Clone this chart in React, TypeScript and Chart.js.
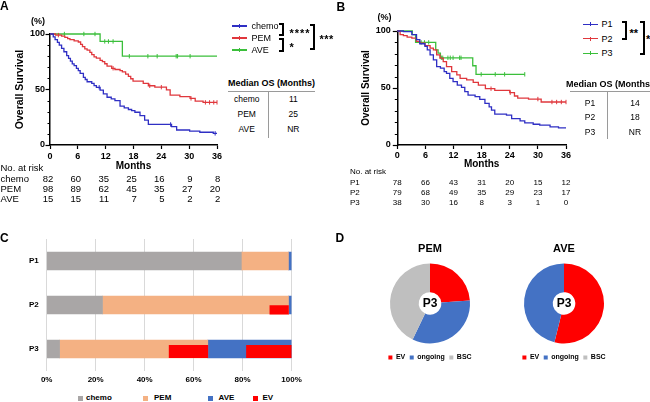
import React, { useEffect, useRef } from 'react';
import { Chart, registerables } from 'chart.js';

Chart.register(...registerables);

const FONT = '"Liberation Sans", Arial, Helvetica, sans-serif';
const INK = '#000';

// ---------- A: overall survival by first-line regimen ----------
const riskMonths = [0, 6, 12, 18, 24, 30, 36];

const chemoSteps = [
  [0, 100], [0.7, 97.5], [1.1, 95], [1.6, 92.5], [2.0, 90], [2.5, 87], [3.0, 84], [3.6, 80.5],
  [4.0, 78], [4.4, 75.5], [4.8, 73], [5.2, 71.5], [5.7, 69], [6.1, 67], [6.5, 64.5], [7.2, 61],
  [7.6, 59], [8.0, 57], [9.0, 55.5], [9.5, 53.5], [10.0, 52], [10.8, 49.5], [11.5, 46], [12.3, 43],
  [13.2, 41.5], [14.0, 40], [15.1, 35], [16.0, 33.5], [16.9, 32], [17.6, 31], [18.3, 29.5],
  [19.4, 26.5], [20.4, 22.5], [21.2, 18.5], [26.2, 16.5], [27.3, 13.5], [30.1, 12.5], [32.3, 11.5],
  [35.2, 10.5], [36, 10.5],
];
const chemoCensored = [10.6, 26.0, 35.6];

const pemSteps = [
  [0, 100], [1.2, 99], [2.5, 98], [3.2, 96.9], [3.8, 95.9], [4.3, 94.9], [5.2, 93.8], [6.1, 92.8],
  [6.6, 90.7], [7.0, 88.7], [7.5, 86.6], [8.0, 85.5], [8.6, 83.5], [9.0, 81.4], [9.5, 79.4],
  [10.0, 78.3], [10.8, 76.3], [11.3, 75.2], [11.8, 73.2], [12.3, 71.1], [13.3, 69.1], [14.0, 68.0],
  [15.1, 67.0], [15.6, 65.9], [16.3, 63.8], [16.9, 61.8], [17.4, 59.7], [17.9, 57.6], [20.1, 55.6],
  [21.2, 53.4], [22.6, 52.1], [25.1, 49.6], [25.9, 45.0], [28.0, 43.5], [30.2, 42.0], [31.3, 39.6],
  [33.0, 38.4], [36, 38.4],
];
const pemCensored = [1.8, 13.6, 21.5, 24.0, 30.4, 33.5, 34.4, 35.3, 36];

const aveSteps = [[0, 100], [10.8, 93.3], [15.6, 80], [36, 80]];
const aveCensored = [3.1, 7.3, 9.7, 11.8, 12.6, 13.6, 17.1, 21.1, 23.1, 27.2, 27.5, 30.2];

const chemoAtRisk = [82, 60, 35, 25, 16, 9, 8];
const pemAtRisk = [98, 89, 62, 45, 35, 27, 20];
const aveAtRisk = [15, 15, 11, 7, 5, 2, 2];

const medianGroupsA = ['chemo', 'PEM', 'AVE'];
const medianMonthsA = ['11', '25', 'NR'];

// ---------- B: overall survival by prognostic group ----------
const p1Steps = [
  [0, 100], [1.3, 99.4], [3.1, 96.8], [4.1, 92.4], [4.8, 88.8], [5.9, 86.5], [6.4, 83.5], [7.0, 79.1],
  [7.7, 74.7], [8.4, 68.8], [9.2, 67.4], [10.0, 64.4], [10.5, 62.9], [11.2, 58.5], [11.9, 55.6],
  [12.8, 52.6], [13.7, 50.6], [14.4, 46.8], [15.1, 43.8], [16.6, 42.4], [17.6, 40.0], [18.7, 36.5],
  [19.6, 33.5], [20.1, 30.6], [20.8, 27.1], [23.3, 26.2], [24.4, 23.2], [26.2, 21.2], [27.2, 19.4],
  [29.0, 18.2], [30.4, 17.4], [32.6, 15.9], [34.4, 15.0], [36, 15.0],
];
const p1Censored: number[] = [];

const p2Steps = [
  [0, 100], [0.6, 96.8], [1.3, 95.9], [2.1, 94.7], [3.1, 93.8], [4.1, 90.9], [4.8, 89.4], [5.9, 87.1],
  [7.0, 85.0], [7.7, 83.5], [8.4, 79.1], [9.1, 76.2], [9.8, 73.2], [10.5, 68.8], [11.6, 64.4],
  [12.7, 61.5], [13.4, 58.5], [14.8, 57.1], [16.2, 55.0], [17.3, 52.6], [18.8, 49.4], [20.8, 48.0],
  [24.0, 45.9], [25.0, 43.0], [25.7, 41.2], [28.0, 40.3], [30.7, 37.7], [36, 37.7],
];
const p2Censored = [20.0, 24.1, 30.0, 33.0, 34.0, 35.0, 36.0];

const p3Steps = [
  [0, 100], [3.2, 96.8], [3.9, 90], [8.2, 83.5], [8.7, 80.6], [9.2, 76.5], [16.1, 69.5], [16.8, 62],
  [27.2, 62],
];
const p3Censored = [5.1, 5.8, 6.7, 9.4, 9.7, 10.8, 11.3, 11.9, 13.3, 13.6, 17.9, 20.9, 22.9, 27.2];

const p1AtRisk = [78, 66, 43, 31, 20, 15, 12];
const p2AtRisk = [79, 68, 49, 35, 29, 23, 17];
const p3AtRisk = [38, 30, 16, 8, 3, 1, 0];

const medianGroupsB = ['P1', 'P2', 'P3'];
const medianMonthsB = ['14', '18', 'NR'];

// ---------- C: first-line treatment by group (patients) ----------
const groups = ['P1', 'P2', 'P3'];
const chemoCounts = [62, 18, 2];
const pemCounts = [15, 60, 23];
const aveCounts = [1, 1, 13];
const pemEvCounts = [0, 6, 6];
const aveEvCounts = [0, 0, 7];

// ---------- D: outcome of P3 patients ----------
const outcomeLabels = ['EV', 'ongoing', 'BSC'];
const pemP3Outcomes = [5, 7, 9];
const aveP3Outcomes = [7, 6, 0];

const BLUE = '#2F2FC4';
const RED = '#E0373C';
const GREEN = '#3BBF3B';

const C_GRAY = '#A9A6A6';
const C_PEACH = '#F4B183';
const C_BLUE = '#4472C4';
const C_RED = '#FF0000';
const D_GRAY = '#BFBFBF';

type Curve = { label: string; color: string; steps: number[][]; censored: number[] };
type RiskRow = { label: string; values: number[] };

function survivalAt(steps: number[][], t: number) {
  let s = steps[0][1];
  for (const [time, value] of steps) {
    if (time <= t) s = value;
    else break;
  }
  return s;
}

function makeKmExtras(cfg: any) {
  return {
    id: 'kmExtras',
    afterDraw(chart: any) {
      const { ctx, chartArea, scales } = chart;
      const x = scales.x;
      const y = scales.y;
      ctx.save();
      // minor ticks on the survival axis
      ctx.strokeStyle = INK;
      ctx.lineWidth = 1;
      for (const v of [10, 20, 30, 40, 60, 70, 80, 90]) {
        const py = Math.round(y.getPixelForValue(v)) + 0.5;
        ctx.beginPath();
        ctx.moveTo(chartArea.left - 2.5, py);
        ctx.lineTo(chartArea.left, py);
        ctx.stroke();
      }
      // number-at-risk table aligned with the month axis
      ctx.fillStyle = INK;
      ctx.font = `${cfg.fontSize}px ${FONT}`;
      ctx.textBaseline = 'middle';
      ctx.textAlign = 'left';
      ctx.fillText('No. at risk', cfg.labelX, cfg.headerY);
      cfg.rows.forEach((row: RiskRow, i: number) => {
        const py = cfg.firstY + i * cfg.gap;
        ctx.textAlign = 'left';
        ctx.fillText(row.label, cfg.labelX, py);
        ctx.textAlign = cfg.align;
        row.values.forEach((v, j) => {
          ctx.fillText(String(v), x.getPixelForValue(riskMonths[j]) + cfg.dx, py);
        });
      });
      ctx.restore();
    },
  };
}

function kmConfig(o: any): any {
  const datasets: any[] = [];
  o.curves.forEach((c: Curve) => {
    datasets.push({
      label: c.label,
      data: c.steps.map(([x, y]) => ({ x, y })),
      borderColor: c.color,
      borderWidth: 1.3,
      pointRadius: 0,
      stepped: 'before',
      fill: false,
      clip: 4,
    });
    datasets.push({
      label: c.label + ' censored',
      data: c.censored.map((t) => ({ x: t, y: survivalAt(c.steps, t) })),
      showLine: false,
      borderColor: c.color,
      backgroundColor: c.color,
      borderWidth: 1,
      pointStyle: 'line',
      pointRotation: 90,
      pointRadius: 2.2,
      clip: 4,
    });
  });
  const tickFont = { family: FONT, size: 9, weight: 'bold' };
  return {
    type: 'line',
    data: { datasets },
    options: {
      responsive: false,
      animation: false,
      events: [],
      layout: { padding: { top: o.padTop, right: o.padRight, left: 0, bottom: 0 } },
      plugins: { legend: { display: false }, tooltip: { enabled: false } },
      scales: {
        x: {
          type: 'linear',
          min: 0,
          max: 36,
          ticks: { stepSize: 6, font: tickFont, color: INK, padding: o.xTickPad },
          grid: { drawOnChartArea: false, tickLength: 4, tickColor: INK, tickWidth: 1.2 },
          border: { color: INK, width: 1.5 },
          title: {
            display: true,
            text: 'Months',
            color: INK,
            font: { family: FONT, size: 10, weight: 'bold' },
            padding: { top: 0, bottom: o.xTitlePad },
          },
          afterFit: (s: any) => { s.height = o.xAxisHeight; },
        },
        y: {
          type: 'linear',
          min: 0,
          max: 100,
          ticks: { stepSize: 50, font: tickFont, color: INK, padding: o.yTickPad },
          grid: { drawOnChartArea: false, tickLength: 4.5, tickColor: INK, tickWidth: 1.2 },
          border: { color: INK, width: 1.5 },
          title: {
            display: true,
            text: 'Overall Survival',
            color: INK,
            font: { family: FONT, size: o.yTitleSize, weight: 'bold' },
            padding: { top: o.yTitlePad, bottom: 0 },
          },
          afterFit: (s: any) => { s.width = o.yAxisWidth; },
        },
      },
    },
    plugins: [makeKmExtras(o.risk)],
  };
}

function barConfig(): any {
  const totals = groups.map((_, i) => chemoCounts[i] + pemCounts[i] + aveCounts[i]);
  const pct = (arr: number[]) => arr.map((v, i) => (v / totals[i]) * 100);
  const barFont = { family: FONT, size: 8, weight: 'bold' };

  // EV patients sit on the lower part of the segment they came from
  const evLayout = [
    { shift: 0, thickness: 0 },
    { shift: 0.11, thickness: 8.5 },
    { shift: 0.057, thickness: 12.5 },
  ];
  const evBars: any[] = [];
  groups.forEach((_, i) => {
    const pemEnd = chemoCounts[i] + pemCounts[i];
    const aveEnd = pemEnd + aveCounts[i];
    if (pemEvCounts[i]) evBars.push({ i, from: pemEnd - pemEvCounts[i], to: pemEnd });
    if (aveEvCounts[i]) evBars.push({ i, from: aveEnd - aveEvCounts[i], to: aveEnd });
  });

  const main = [
    { label: 'chemo', data: pct(chemoCounts), color: C_GRAY },
    { label: 'PEM', data: pct(pemCounts), color: C_PEACH },
    { label: 'AVE', data: pct(aveCounts), color: C_BLUE },
  ].map((d) => ({
    label: d.label,
    data: d.data,
    backgroundColor: d.color,
    borderColor: d.color,
    borderWidth: 0,
    barThickness: 18,
    grouped: false,
    order: 1,
    xAxisID: 'x',
    yAxisID: 'y',
  }));

  const ev = evBars.map((b) => ({
    label: 'EV',
    data: [{ x: [(b.from / totals[b.i]) * 100, (b.to / totals[b.i]) * 100], y: b.i + evLayout[b.i].shift }],
    backgroundColor: C_RED,
    borderColor: C_RED,
    borderWidth: 0,
    barThickness: evLayout[b.i].thickness,
    grouped: false,
    order: 0,
    xAxisID: 'x2',
    yAxisID: 'y2',
  }));

  return {
    type: 'bar',
    data: { labels: groups, datasets: [...main, ...ev] },
    options: {
      indexAxis: 'y',
      responsive: false,
      animation: false,
      events: [],
      layout: { padding: { left: 28, right: 10.5, top: 7, bottom: 0 } },
      plugins: { legend: { display: false }, tooltip: { enabled: false } },
      scales: {
        x: {
          type: 'linear',
          min: 0,
          max: 100,
          stacked: true,
          ticks: { stepSize: 20, callback: (v: any) => `${v}%`, font: barFont, color: INK, padding: 4.2 },
          grid: { color: '#D9D9D9', lineWidth: 1, drawTicks: false },
          border: { display: false },
          afterFit: (s: any) => { s.height = 19; },
        },
        y: {
          type: 'category',
          stacked: true,
          ticks: { font: barFont, color: INK, padding: 8 },
          grid: { display: false, drawTicks: false },
          border: { display: false },
          afterFit: (s: any) => {
            s.width = 18.7;
            s.paddingTop = 0;
            s.paddingBottom = 0;
          },
        },
        x2: { type: 'linear', min: 0, max: 100, display: false },
        y2: { type: 'linear', min: -0.5, max: 2.5, reverse: true, offset: false, display: false },
      },
    },
  };
}

const centerLabel = {
  id: 'centerLabel',
  afterDraw(chart: any) {
    const arc = chart.getDatasetMeta(0).data[0];
    if (!arc) return;
    const { ctx } = chart;
    ctx.save();
    ctx.font = `bold 12px ${FONT}`;
    ctx.fillStyle = INK;
    ctx.textAlign = 'center';
    ctx.textBaseline = 'middle';
    ctx.fillText('P3', arc.x, arc.y + 0.5);
    ctx.restore();
  },
};

function pieConfig(title: string, values: number[]): any {
  return {
    type: 'doughnut',
    data: {
      labels: outcomeLabels,
      datasets: [{
        data: values,
        backgroundColor: [C_RED, C_BLUE, D_GRAY],
        borderWidth: 0,
        radius: 40,
        cutout: 13,
      }],
    },
    options: {
      responsive: false,
      animation: false,
      events: [],
      layout: { padding: 0 },
      plugins: {
        tooltip: { enabled: false },
        title: {
          display: true,
          text: title,
          color: INK,
          font: { family: FONT, size: 11, weight: 'bold' },
          padding: { top: 4.2, bottom: 2 },
        },
        legend: {
          position: 'bottom',
          labels: {
            boxWidth: 4,
            boxHeight: 4,
            padding: 4.5,
            color: INK,
            font: { family: FONT, size: 7, weight: 'bold' },
          },
        },
      },
    },
    plugins: [centerLabel],
  };
}

// ---------- small positioned text helpers ----------
const base: any = { position: 'absolute', whiteSpace: 'nowrap', color: INK, fontFamily: FONT, lineHeight: 1 };

function T(p: { x: number; y: number; size?: number; bold?: boolean; anchor?: 'left' | 'center'; spacing?: number; children: any }) {
  const tx = p.anchor === 'left' ? '0' : '-50%';
  return (
    <div
      style={{
        ...base,
        left: p.x,
        top: p.y,
        fontSize: p.size ?? 9,
        fontWeight: p.bold ? 'bold' : 'normal',
        letterSpacing: p.spacing ?? 0,
        transform: `translate(${tx}, -50%)`,
      }}
    >
      {p.children}
    </div>
  );
}

function Letter(p: { x: number; y: number; children: any }) {
  return <div style={{ ...base, left: p.x, top: p.y, fontSize: 12, fontWeight: 'bold' }}>{p.children}</div>;
}

function Key(p: { x: number; y: number; color: string }) {
  return (
    <>
      <div style={{ position: 'absolute', left: p.x, top: p.y - 0.65, width: 15, height: 1.3, background: p.color }} />
      <div style={{ position: 'absolute', left: p.x + 7, top: p.y - 2.2, width: 1, height: 4.4, background: p.color }} />
    </>
  );
}

function Bracket(p: { x: number; top: number; bottom: number }) {
  return (
    <div
      style={{
        position: 'absolute',
        left: p.x,
        top: p.top,
        width: 5,
        height: p.bottom - p.top,
        boxSizing: 'border-box',
        borderTop: '2px solid #000',
        borderRight: '2px solid #000',
        borderBottom: '2px solid #000',
      }}
    />
  );
}

function MedianTable(p: {
  headX: number; headY: number; lineX: number; lineW: number; lineY: number;
  divX: number; divBottom: number; rowY: number[]; col1: number; col2: number;
  groupsText: string[]; monthsText: string[];
}) {
  return (
    <>
      <T x={p.headX} y={p.headY} bold anchor="left">Median OS (Months)</T>
      <div style={{ position: 'absolute', left: p.lineX, top: p.lineY, width: p.lineW, height: 1, background: '#9A9A9A' }} />
      <div style={{ position: 'absolute', left: p.divX, top: p.lineY + 1, width: 1, height: p.divBottom - p.lineY - 1, background: '#9A9A9A' }} />
      {p.groupsText.map((g, i) => (
        <React.Fragment key={g}>
          <T x={p.col1} y={p.rowY[i]} size={8.5}>{g}</T>
          <T x={p.col2} y={p.rowY[i]} size={8.5}>{p.monthsText[i]}</T>
        </React.Fragment>
      ))}
    </>
  );
}

export default function App() {
  const aRef = useRef<HTMLCanvasElement>(null);
  const bRef = useRef<HTMLCanvasElement>(null);
  const cRef = useRef<HTMLCanvasElement>(null);
  const pemRef = useRef<HTMLCanvasElement>(null);
  const aveRef = useRef<HTMLCanvasElement>(null);

  useEffect(() => {
    const charts: Chart[] = [];
    charts.push(new Chart(aRef.current as HTMLCanvasElement, kmConfig({
      curves: [
        { label: 'chemo', color: BLUE, steps: chemoSteps, censored: chemoCensored },
        { label: 'PEM', color: RED, steps: pemSteps, censored: pemCensored },
        { label: 'AVE', color: GREEN, steps: aveSteps, censored: aveCensored },
      ],
      padTop: 34, padRight: 8, yAxisWidth: 50, xAxisHeight: 65,
      xTickPad: 2, yTickPad: 0.5, xTitlePad: 37.3, yTitlePad: 13.7, yTitleSize: 10.5,
      risk: {
        fontSize: 9.5, labelX: 0.5, headerY: 168.3, firstY: 179, gap: 10.3, align: 'right', dx: 3.3,
        rows: [
          { label: 'chemo', values: chemoAtRisk },
          { label: 'PEM', values: pemAtRisk },
          { label: 'AVE', values: aveAtRisk },
        ],
      },
    })));
    charts.push(new Chart(bRef.current as HTMLCanvasElement, kmConfig({
      curves: [
        { label: 'P1', color: BLUE, steps: p1Steps, censored: p1Censored },
        { label: 'P2', color: RED, steps: p2Steps, censored: p2Censored },
        { label: 'P3', color: GREEN, steps: p3Steps, censored: p3Censored },
      ],
      padTop: 31, padRight: 9, yAxisWidth: 67.3, xAxisHeight: 67,
      xTickPad: 1, yTickPad: 2, xTitlePad: 41.7, yTitlePad: 30.7, yTitleSize: 10,
      risk: {
        fontSize: 8, labelX: 20, headerY: 172, firstY: 182.3, gap: 10, align: 'center', dx: 0,
        rows: [
          { label: 'P1', values: p1AtRisk },
          { label: 'P2', values: p2AtRisk },
          { label: 'P3', values: p3AtRisk },
        ],
      },
    })));
    charts.push(new Chart(cRef.current as HTMLCanvasElement, barConfig()));
    charts.push(new Chart(pemRef.current as HTMLCanvasElement, pieConfig('PEM', pemP3Outcomes)));
    charts.push(new Chart(aveRef.current as HTMLCanvasElement, pieConfig('AVE', aveP3Outcomes)));
    return () => charts.forEach((c) => c.destroy());
  }, []);

  const cv = (left: number, top: number, w: number, h: number): any => ({
    position: 'absolute', left, top, width: w, height: h,
  });

  const cLegend = [
    { label: 'chemo', color: C_GRAY, box: 78.3, text: 86 },
    { label: 'PEM', color: C_PEACH, box: 143.3, text: 154 },
    { label: 'AVE', color: C_BLUE, box: 208.3, text: 218.5 },
    { label: 'EV', color: C_RED, box: 253.3, text: 262.5 },
  ];

  return (
    <div style={{ position: 'fixed', left: 0, top: 0, width: 650, height: 402, background: '#fff', overflow: 'hidden' }}>
      <canvas ref={aRef} width={225} height={210} style={cv(0, 0, 225, 210)} />
      <canvas ref={bRef} width={245} height={212} style={cv(330, 0, 245, 212)} />
      <canvas ref={cRef} width={306} height={158} style={cv(0, 232, 306, 158)} />
      <canvas ref={pemRef} width={100} height={133} style={cv(380, 238, 100, 133)} />
      <canvas ref={aveRef} width={100} height={133} style={cv(514, 238, 100, 133)} />

      {/* A */}
      <Letter x={0} y={0}>A</Letter>
      <T x={38} y={21} bold>(%)</T>
      <Key x={232} y={26} color={BLUE} />
      <Key x={232} y={38} color={RED} />
      <Key x={232} y={50} color={GREEN} />
      <T x={251.5} y={26} anchor="left">chemo</T>
      <T x={251.5} y={38} anchor="left">PEM</T>
      <T x={251.5} y={50} anchor="left">AVE</T>
      <Bracket x={279} top={23.3} bottom={35.7} />
      <Bracket x={279} top={38.3} bottom={52} />
      <Bracket x={310} top={24} bottom={50} />
      <T x={289.5} y={33.3} size={11} bold anchor="left" spacing={1}>****</T>
      <T x={289.5} y={47.3} size={11} bold anchor="left">*</T>
      <T x={319.5} y={39.3} size={11} bold anchor="left" spacing={0.5}>***</T>
      <MedianTable
        headX={228} headY={83.3} lineX={228} lineW={87} lineY={90.5} divX={267.5} divBottom={138}
        rowY={[99, 114, 128.5]} col1={246.7} col2={293.3} groupsText={medianGroupsA} monthsText={medianMonthsA}
      />

      {/* B */}
      <Letter x={336.5} y={1}>B</Letter>
      <T x={384.5} y={17} bold>(%)</T>
      <Key x={583} y={24.3} color={BLUE} />
      <Key x={583} y={38.7} color={RED} />
      <Key x={583} y={53.3} color={GREEN} />
      <T x={601.5} y={24.3} anchor="left">P1</T>
      <T x={601.5} y={38.7} anchor="left">P2</T>
      <T x={601.5} y={53.3} anchor="left">P3</T>
      <Bracket x={622} top={21} bottom={40} />
      <Bracket x={640} top={21} bottom={55} />
      <T x={629.5} y={33.3} size={11} bold anchor="left">**</T>
      <T x={646} y={39.3} size={11} bold anchor="left">*</T>
      <MedianTable
        headX={566} headY={84.3} lineX={570} lineW={80} lineY={90.5} divX={606.7} divBottom={139}
        rowY={[102.7, 117, 131.7]} col1={590} col2={635} groupsText={medianGroupsB} monthsText={medianMonthsB}
      />

      {/* C */}
      <Letter x={0} y={231.7}>C</Letter>
      {cLegend.map((l) => (
        <React.Fragment key={l.label}>
          <div style={{ position: 'absolute', left: l.box, top: 395.8, width: 5, height: 5, background: l.color }} />
          <T x={l.text} y={398.3} size={8} bold anchor="left">{l.label}</T>
        </React.Fragment>
      ))}

      {/* D */}
      <Letter x={335.5} y={231.7}>D</Letter>
    </div>
  );
}
